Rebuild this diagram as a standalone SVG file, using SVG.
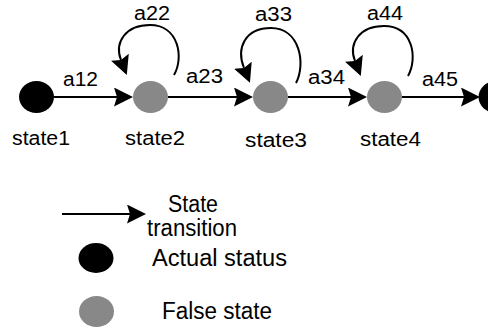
<svg xmlns="http://www.w3.org/2000/svg" width="488" height="331" viewBox="0 0 488 331">
  <style>
    text { font-family: "Liberation Sans", Arial, sans-serif; fill: #000; }
    .lbl { font-size: 20px; }
    .prob { font-size: 20px; }
    .leg { font-size: 23px; }
    .actual { fill: #000; }
    .false { fill: #888; }
    .edge { fill: none; stroke: #000; stroke-width: 2; marker-end: url(#head); }
  </style>
  <defs>
    <marker id="head" markerUnits="userSpaceOnUse" markerWidth="19" markerHeight="19" viewBox="0 0 19 19" refX="3" refY="9.5" orient="auto">
      <path d="M0,0 L19,9.5 L0,19 L3,9.5 z" fill="#000"/>
    </marker>
  </defs>

  <rect width="488" height="331" fill="#fff"/>

  <!-- transitions and self-loops -->
  <g id="connectors">
    <path class="edge" d="M54,97 H117"/>
    <path class="edge" d="M168,97 H237"/>
    <path class="edge" d="M288,97 H351"/>
    <path class="edge" d="M402,97 H464"/>
    <path class="edge" d="M174,75 C184,58 179,25 150,25 C126,25 114,42 121,60"/>
    <path class="edge" d="M296,83 C306,64 300,28 271,28 C245,28 236,48 244,68"/>
    <path class="edge" d="M408,76 C418,58 413,26 384,26 C360,26 348,43 355,61"/>
  </g>

  <!-- transition probabilities -->
  <g id="probabilities">
    <text class="prob" x="63" y="86" textLength="35" lengthAdjust="spacingAndGlyphs">a12</text>
    <text class="prob" x="134" y="20" textLength="36" lengthAdjust="spacingAndGlyphs">a22</text>
    <text class="prob" x="186" y="83" textLength="37" lengthAdjust="spacingAndGlyphs">a23</text>
    <text class="prob" x="255" y="21" textLength="37" lengthAdjust="spacingAndGlyphs">a33</text>
    <text class="prob" x="308" y="84" textLength="37" lengthAdjust="spacingAndGlyphs">a34</text>
    <text class="prob" x="367" y="20" textLength="36" lengthAdjust="spacingAndGlyphs">a44</text>
    <text class="prob" x="422" y="86" textLength="36" lengthAdjust="spacingAndGlyphs">a45</text>
  </g>

  <g id="state1">
    <ellipse class="actual" cx="36.5" cy="97" rx="17.5" ry="16"/>
    <text class="lbl" x="12" y="145" textLength="58" lengthAdjust="spacingAndGlyphs">state1</text>
  </g>
  <g id="state2">
    <ellipse class="false" cx="150.5" cy="97" rx="17.5" ry="16"/>
    <text class="lbl" x="125" y="145" textLength="60" lengthAdjust="spacingAndGlyphs">state2</text>
  </g>
  <g id="state3">
    <ellipse class="false" cx="270.5" cy="97" rx="17.5" ry="16"/>
    <text class="lbl" x="245" y="147" textLength="62" lengthAdjust="spacingAndGlyphs">state3</text>
  </g>
  <g id="state4">
    <ellipse class="false" cx="384.5" cy="97" rx="17.5" ry="16"/>
    <text class="lbl" x="360" y="146" textLength="61" lengthAdjust="spacingAndGlyphs">state4</text>
  </g>
  <g id="state5">
    <ellipse class="actual" cx="496" cy="97" rx="17.5" ry="16"/>
  </g>

  <!-- legend -->
  <g id="legend-transition">
    <path class="edge" d="M62,214 H130"/>
    <text class="leg" x="168" y="212" textLength="50" lengthAdjust="spacingAndGlyphs">State</text>
    <text class="leg" x="147" y="236" textLength="90" lengthAdjust="spacingAndGlyphs">transition</text>
  </g>
  <g id="legend-actual">
    <ellipse class="actual" cx="96" cy="258" rx="17.5" ry="15"/>
    <text class="leg" x="152" y="266" textLength="135" lengthAdjust="spacingAndGlyphs">Actual status</text>
  </g>
  <g id="legend-false">
    <ellipse class="false" cx="96.5" cy="311.5" rx="17.5" ry="15.5"/>
    <text class="leg" x="162" y="319" textLength="110" lengthAdjust="spacingAndGlyphs">False state</text>
  </g>
</svg>
